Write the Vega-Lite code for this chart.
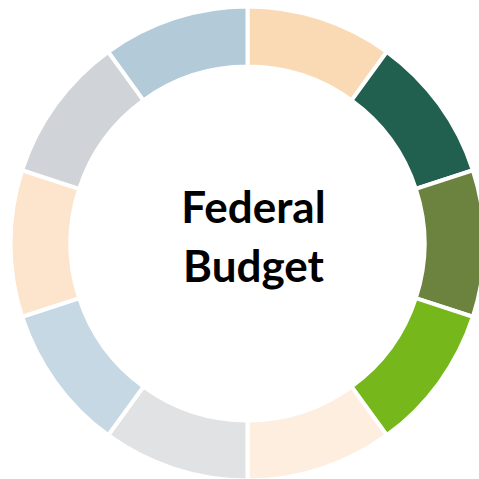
{
  "$schema": "https://vega.github.io/schema/vega-lite/v6.json",
  "width": 463,
  "height": 471,
  "autosize": {"type": "none"},
  "padding": {"left": 16, "top": 8, "right": 0, "bottom": 0},
  "background": "white",
  "view": {"stroke": null},
  "datasets": {
    "segments": [
      {"segment": "S1", "order": 1, "value": 1},
      {"segment": "S2", "order": 2, "value": 1},
      {"segment": "S3", "order": 3, "value": 1},
      {"segment": "S4", "order": 4, "value": 1},
      {"segment": "S5", "order": 5, "value": 1},
      {"segment": "S6", "order": 6, "value": 1},
      {"segment": "S7", "order": 7, "value": 1},
      {"segment": "S8", "order": 8, "value": 1},
      {"segment": "S9", "order": 9, "value": 1},
      {"segment": "S10", "order": 10, "value": 1}
    ],
    "title": [{"label": "Federal\nBudget"}]
  },
  "layer": [
    {
      "data": {"name": "segments"},
      "mark": {"type": "arc", "outerRadius": 237, "innerRadius": 177, "stroke": "white", "strokeWidth": 4},
      "encoding": {
        "theta": {"field": "value", "type": "quantitative", "stack": true},
        "order": {"field": "order", "type": "quantitative"},
        "color": {
          "field": "segment",
          "type": "nominal",
          "legend": null,
          "scale": {
            "domain": ["S1","S2","S3","S4","S5","S6","S7","S8","S9","S10"],
            "range": ["#fad9b5","#215f4f","#6b833f","#76b71b","#fdeee0","#e1e2e4","#c6d8e3","#fde4cc","#d0d3d8","#b3cad8"]
          }
        }
      }
    },
    {
      "data": {"name": "title"},
      "mark": {"type": "text", "font": "Lato", "fontWeight": "bold", "fontSize": 44, "lineBreak": "\n", "lineHeight": 59, "align": "center", "baseline": "alphabetic", "dx": 6, "dy": -20.5, "color": "black"},
      "encoding": {"text": {"field": "label"}}
    }
  ]
}
